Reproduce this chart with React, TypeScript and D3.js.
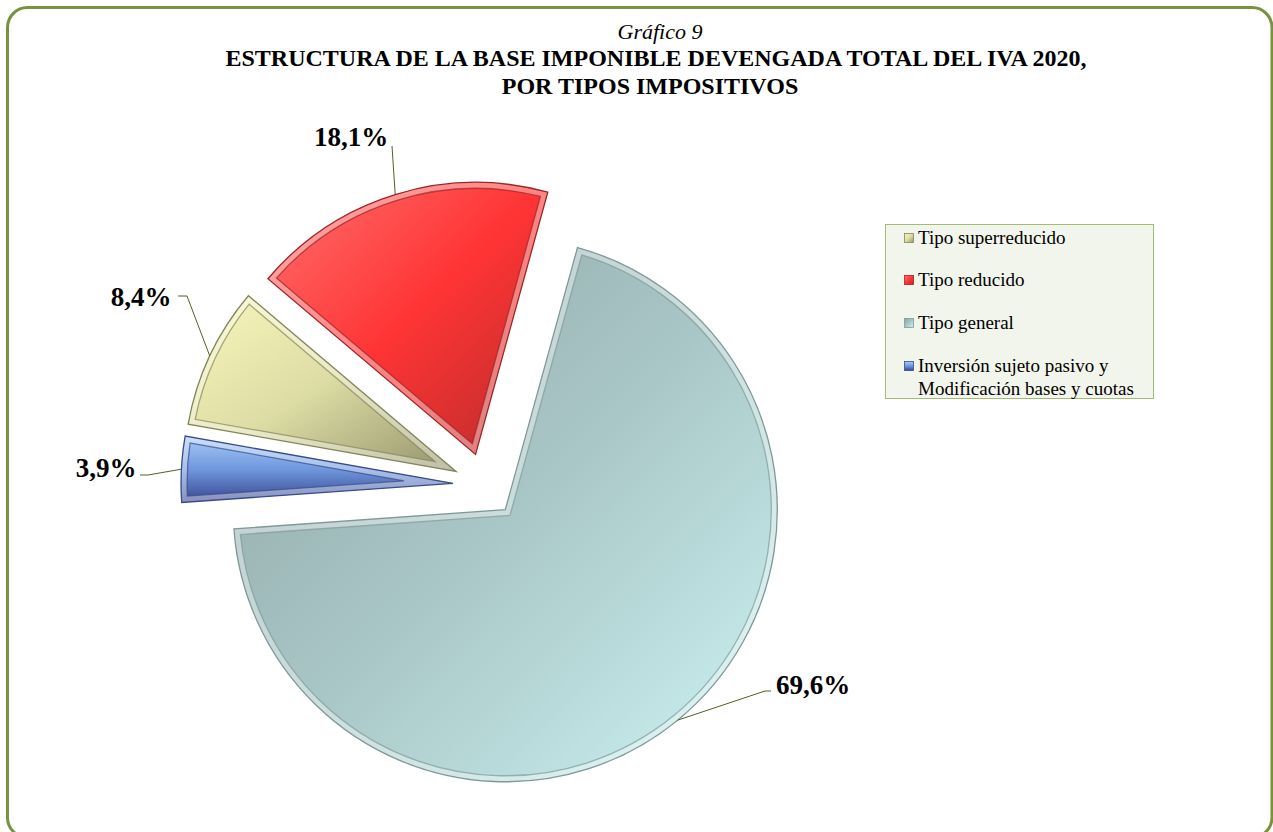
import React from 'react';
import * as d3 from 'd3';

// datos del gráfico (orden de la serie en Excel)
const categories = [
  'Tipo superreducido',
  'Tipo reducido',
  'Tipo general',
  'Inversión sujeto pasivo y Modificación bases y cuotas',
];
const shares = [8.4, 18.1, 69.6, 3.9];
const valueLabels = ['8,4%', '18,1%', '69,6%', '3,9%'];
const legendLines = [
  ['Tipo superreducido'],
  ['Tipo reducido'],
  ['Tipo general'],
  ['Inversión sujeto pasivo y', 'Modificación bases y cuotas'],
];

const W = 1273;
const H = 832;
const CX = 485;
const CY = 485;
const R = 272;
const EXPLODE = 32;
const BEVEL = 6;
const START = (280 * Math.PI) / 180;
const FONT = '"Liberation Serif", "Times New Roman", serif';

const sliceStyles = [
  { id: 'g-sup', stops: ['#f7f7bd', '#dcdca4', '#93936c'], edge: '#85855a', xy: [0, 0, 1, 1] },
  { id: 'g-red', stops: ['#ff7070', '#ff3434', '#b82c2c'], edge: '#a02424', xy: [0, 0, 1, 1] },
  { id: 'g-gen', stops: ['#8ea3a3', '#a9c6c6', '#cdf3f3'], edge: '#7f9898', xy: [0, 0, 1, 1] },
  { id: 'g-inv', stops: ['#a8ccf8', '#6f97dd', '#38468e'], edge: '#3a4a8a', xy: [0, 0, 0, 1] },
];

// posición de las etiquetas: texto (x, base) y arranque de la línea guía
const labelPos = [
  { x: 141, y: 306, lx: 178, ex: 187, ly: 296 },
  { x: 351, y: 146, lx: 392, ex: 392, ly: 146 },
  { x: 813, y: 694, lx: 771, ex: 765, ly: 691 },
  { x: 106, y: 477, lx: 140, ex: 148, ly: 475 },
];

function insetWedge(a0: number, a1: number, r: number, t: number) {
  const half = (a1 - a0) / 2;
  const mid = (a0 + a1) / 2;
  const d = t / Math.sin(half);
  const ax = d * Math.sin(mid);
  const ay = -d * Math.cos(mid);
  const rr = r - t;
  const p0 = a0 + Math.asin(t / rr);
  const p1 = a1 - Math.asin(t / rr);
  const large = p1 - p0 > Math.PI ? 1 : 0;
  return `M${ax},${ay}L${rr * Math.sin(p0)},${-rr * Math.cos(p0)}A${rr},${rr} 0 ${large} 1 ${rr * Math.sin(p1)},${-rr * Math.cos(p1)}Z`;
}

export default function App() {
  const pie = d3.pie<number>().sort(null).value((d) => d)
    .startAngle(START).endAngle(START + 2 * Math.PI);
  const arcs = pie(shares);
  const arc = d3.arc<d3.PieArcDatum<number>>().innerRadius(0).outerRadius(R);

  return (
    <svg width={W} height={H} style={{ position: 'absolute', left: 0, top: 0 }} fontFamily={FONT}>
      <defs>
        {sliceStyles.map((s) => (
          <linearGradient key={s.id} id={s.id} x1={s.xy[0]} y1={s.xy[1]} x2={s.xy[2]} y2={s.xy[3]}>
            <stop offset="0" stopColor={s.stops[0]} />
            <stop offset="0.5" stopColor={s.stops[1]} />
            <stop offset="1" stopColor={s.stops[2]} />
          </linearGradient>
        ))}
        {arcs.map((a, i) => (
          <clipPath key={i} id={`clip-${i}`}>
            <path d={arc(a) || ''} />
          </clipPath>
        ))}
      </defs>

      <rect x={7.5} y={7.5} width={1264.5} height={830} rx={20} fill="#fff" stroke="#77933c" strokeWidth={3} />

      <text x={660} y={39} textAnchor="middle" fontSize={22} fontStyle="italic">Gráfico 9</text>
      <text x={656} y={66} textAnchor="middle" fontSize={24} fontWeight="bold">
        ESTRUCTURA DE LA BASE IMPONIBLE DEVENGADA TOTAL DEL IVA 2020,
      </text>
      <text x={650} y={94} textAnchor="middle" fontSize={24} fontWeight="bold">POR TIPOS IMPOSITIVOS</text>

      {arcs.map((a, i) => {
        const mid = (a.startAngle + a.endAngle) / 2;
        const ox = CX + EXPLODE * Math.sin(mid);
        const oy = CY - EXPLODE * Math.cos(mid);
        const s = sliceStyles[i];
        const d = arc(a) || '';
        return (
          <g key={categories[i]} transform={`translate(${ox},${oy})`}>
            <path d={d} fill={`url(#${s.id})`} />
            <g clipPath={`url(#clip-${i})`}>
              <path d={d} fill="none" stroke="#fff" strokeOpacity={0.4} strokeWidth={BEVEL * 2} />
            </g>
            <path d={insetWedge(a.startAngle, a.endAngle, R, BEVEL)} fill="none" stroke={s.edge} strokeOpacity={0.7} strokeWidth={1.3} />
            <path d={d} fill="none" stroke={s.edge} strokeWidth={1.3} />
          </g>
        );
      })}

      {arcs.map((a, i) => {
        const mid = (a.startAngle + a.endAngle) / 2;
        const px = CX + (EXPLODE + R) * Math.sin(mid);
        const py = CY - (EXPLODE + R) * Math.cos(mid);
        const p = labelPos[i];
        return (
          <g key={valueLabels[i]}>
            <polyline points={`${p.lx},${p.ly} ${p.ex},${p.ly} ${px},${py}`} fill="none" stroke="#4f6228" strokeWidth={1} />
            <text x={p.x} y={p.y} textAnchor="middle" fontSize={27} fontWeight="bold">{valueLabels[i]}</text>
          </g>
        );
      })}

      <g>
        <rect x={885.5} y={224.5} width={268} height={174} fill="#f2f5eb" stroke="#a3bb72" strokeWidth={1} />
        {legendLines.map((lines, i) => {
          const base = [244, 286, 329, 372][i];
          return (
            <g key={categories[i]}>
              <rect x={904.5} y={base - 10.5} width={9} height={9} fill={`url(#${sliceStyles[i].id})`} stroke={sliceStyles[i].edge} strokeWidth={0.8} />
              {lines.map((t, j) => (
                <text key={t} x={918} y={base + j * 23} fontSize={19}>{t}</text>
              ))}
            </g>
          );
        })}
      </g>
    </svg>
  );
}
